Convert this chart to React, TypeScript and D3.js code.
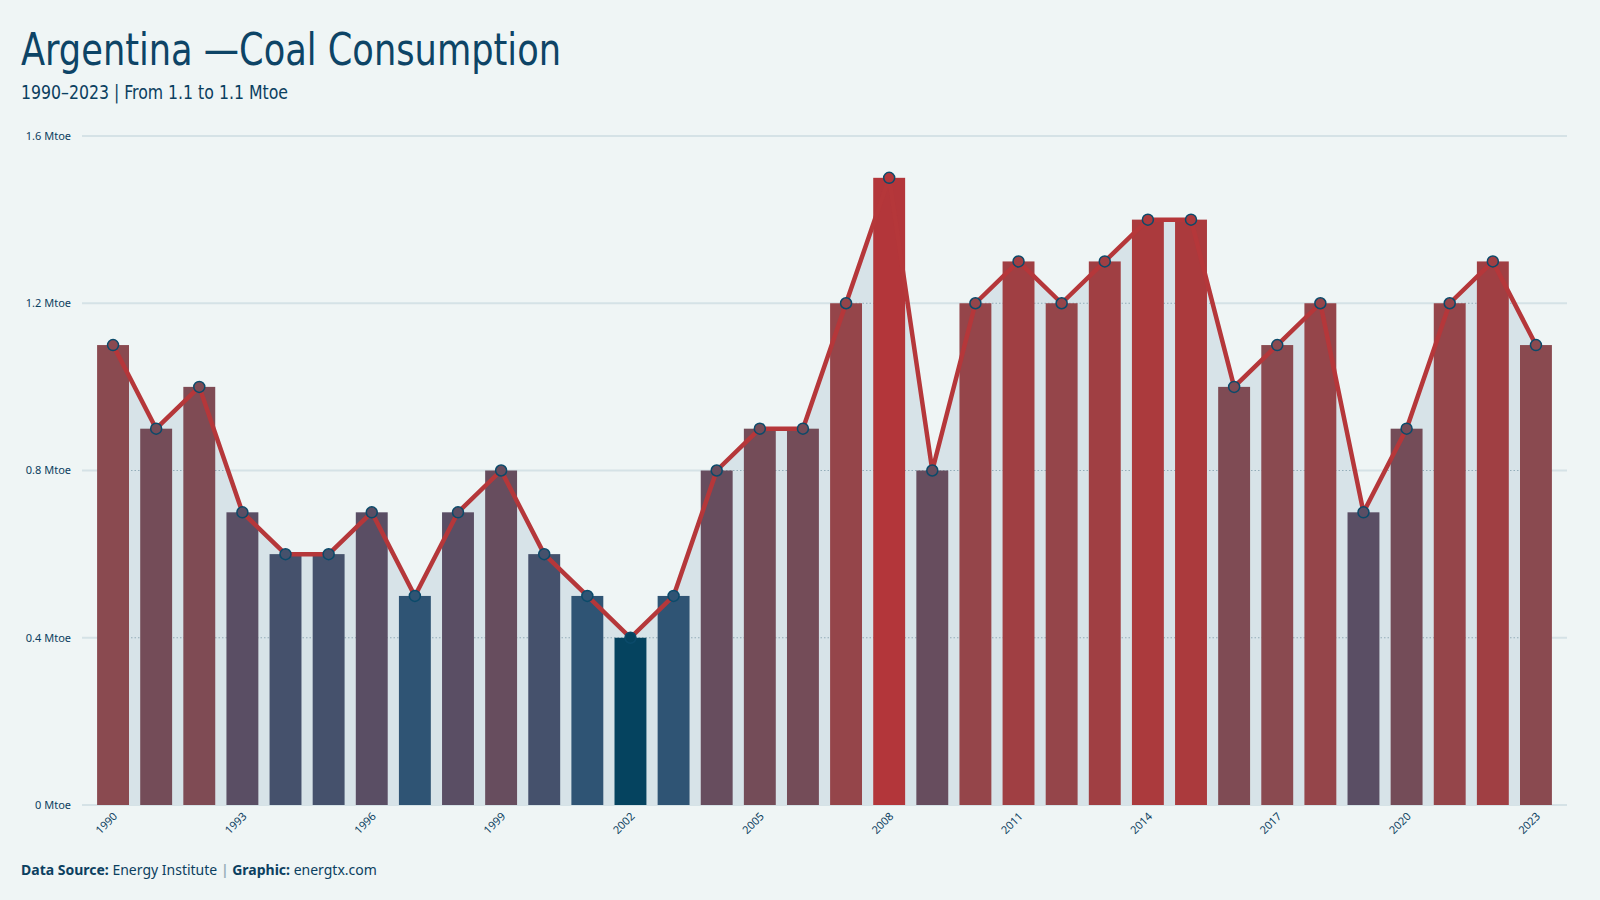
import React, { useEffect, useRef } from "react";
import * as d3 from "d3";

const years: number[] = d3.range(1990, 2024);
const consumption: number[] = [
  1.1, 0.9, 1.0, 0.7, 0.6, 0.6, 0.7, 0.5, 0.7, 0.8, 0.6, 0.5, 0.4, 0.5, 0.8, 0.9, 0.9,
  1.2, 1.5, 0.8, 1.2, 1.3, 1.2, 1.3, 1.4, 1.4, 1.0, 1.1, 1.2, 0.7, 0.9, 1.2, 1.3, 1.1,
];
const yTicks: number[] = [0, 0.4, 0.8, 1.2, 1.6];
const xTickYears: number[] = d3.range(1990, 2024, 3);

const title = "Argentina —Coal Consumption";
const subtitle = "1990–2023 | From 1.1 to 1.1 Mtoe";

const W = 1600;
const H = 900;
const BG = "#eff5f5";
const INK = "#0b4060";
const RED = "#b5373a";
const AREA = "#d7e3e8";
const CONDENSED = "'DejaVu Sans Condensed', 'DejaVu Sans', sans-serif";

const App = () => {
  const svgRef = useRef<SVGSVGElement>(null);

  useEffect(() => {
    const svg = d3.select(svgRef.current);
    svg.selectAll("*").remove();

    const data = years.map((y, i) => ({ year: y, value: consumption[i] }));

    const x = d3
      .scaleBand<number>()
      .domain(years)
      .range([82, 1567])
      .paddingInner(0.26)
      .paddingOuter(0.35);
    const y = d3.scaleLinear().domain([0, 1.6]).range([805, 136]);
    const cx = (d: { year: number }) => (x(d.year) as number) + x.bandwidth() / 2;

    // bar colours run from deep blue at the low end to red at the peak
    const color = d3
      .scaleLinear<string>()
      .domain([0.4, 0.5, 0.7, 0.9, 1.1, 1.4, 1.5])
      .range(["#05435f", "#2f5474", "#5a4e64", "#744c58", "#8a4a50", "#ab3a3d", "#b3363a"])
      .clamp(true);

    svg.append("rect").attr("width", W).attr("height", H).attr("fill", BG);

    // solid grid
    svg
      .append("g")
      .selectAll("line")
      .data(yTicks)
      .join("line")
      .attr("x1", 82)
      .attr("x2", 1567)
      .attr("y1", (d) => y(d))
      .attr("y2", (d) => y(d))
      .attr("stroke", "#d5e2e6")
      .attr("stroke-width", 2);

    const area = d3
      .area<{ year: number; value: number }>()
      .x(cx)
      .y0(y(0))
      .y1((d) => y(d.value));

    svg.append("path").datum(data).attr("d", area).attr("fill", AREA);

    const defs = svg.append("defs");
    defs.append("clipPath").attr("id", "area-clip").append("path").datum(data).attr("d", area);

    // dotted grid inside the shaded area
    svg
      .append("g")
      .attr("clip-path", "url(#area-clip)")
      .selectAll("line")
      .data(yTicks.slice(1))
      .join("line")
      .attr("x1", 82)
      .attr("x2", 1567)
      .attr("y1", (d) => y(d))
      .attr("y2", (d) => y(d))
      .attr("stroke", "#93adb9")
      .attr("stroke-width", 1)
      .attr("stroke-dasharray", "1.5,2");

    svg
      .append("g")
      .selectAll("rect")
      .data(data)
      .join("rect")
      .attr("x", (d) => x(d.year) as number)
      .attr("width", x.bandwidth())
      .attr("y", (d) => y(d.value))
      .attr("height", (d) => y(0) - y(d.value))
      .attr("fill", (d) => color(d.value));

    const line = d3
      .line<{ year: number; value: number }>()
      .x(cx)
      .y((d) => y(d.value));

    svg
      .append("path")
      .datum(data)
      .attr("d", line)
      .attr("fill", "none")
      .attr("stroke", RED)
      .attr("stroke-width", 4.5)
      .attr("stroke-linejoin", "round");

    svg
      .append("g")
      .selectAll("circle")
      .data(data)
      .join("circle")
      .attr("cx", cx)
      .attr("cy", (d) => y(d.value))
      .attr("r", 5.5)
      .attr("fill", (d) => color(d.value))
      .attr("stroke", "#0b4a6a")
      .attr("stroke-width", 1.5);

    // y axis labels
    svg
      .append("g")
      .selectAll("text")
      .data(yTicks)
      .join("text")
      .attr("x", 71)
      .attr("y", (d) => y(d))
      .attr("dy", "0.35em")
      .attr("text-anchor", "end")
      .attr("font-family", "'Noto Sans', sans-serif")
      .attr("font-size", 11)
      .attr("fill", INK)
      .text((d) => `${d === 0 ? 0 : d3.format(".1f")(d)} Mtoe`);

    // x axis labels
    svg
      .append("g")
      .selectAll("text")
      .data(xTickYears)
      .join("text")
      .attr(
        "transform",
        (d) => `translate(${(x(d) as number) + x.bandwidth() / 2 + 5},${817}) rotate(-45)`
      )
      .attr("text-anchor", "end")
      .attr("font-family", "'Noto Sans', sans-serif")
      .attr("font-size", 11)
      .attr("fill", INK)
      .text((d) => d);

    svg
      .append("text")
      .attr("x", 21)
      .attr("y", 65)
      .attr("font-family", CONDENSED)
      .attr("font-size", 44)
      .attr("textLength", 540)
      .attr("lengthAdjust", "spacingAndGlyphs")
      .attr("fill", "#0d4466")
      .text(title);

    svg
      .append("text")
      .attr("x", 21)
      .attr("y", 99)
      .attr("font-family", CONDENSED)
      .attr("font-size", 20)
      .attr("textLength", 267)
      .attr("lengthAdjust", "spacingAndGlyphs")
      .attr("fill", INK)
      .text(subtitle);

    const foot = svg
      .append("text")
      .attr("x", 21)
      .attr("y", 875)
      .attr("font-family", "'Noto Sans', sans-serif")
      .attr("font-size", 14)
      .attr("fill", INK);
    foot.append("tspan").attr("font-weight", "bold").text("Data Source:");
    foot.append("tspan").text(" Energy Institute ");
    foot.append("tspan").attr("fill", "#9ab0bb").attr("font-weight", "bold").text("|");
    foot.append("tspan").attr("font-weight", "bold").text(" Graphic:");
    foot.append("tspan").text(" energtx.com");
  }, []);

  return (
    <svg
      ref={svgRef}
      width={W}
      height={H}
      style={{ position: "absolute", left: 0, top: 0, display: "block" }}
    />
  );
};

export default App;
